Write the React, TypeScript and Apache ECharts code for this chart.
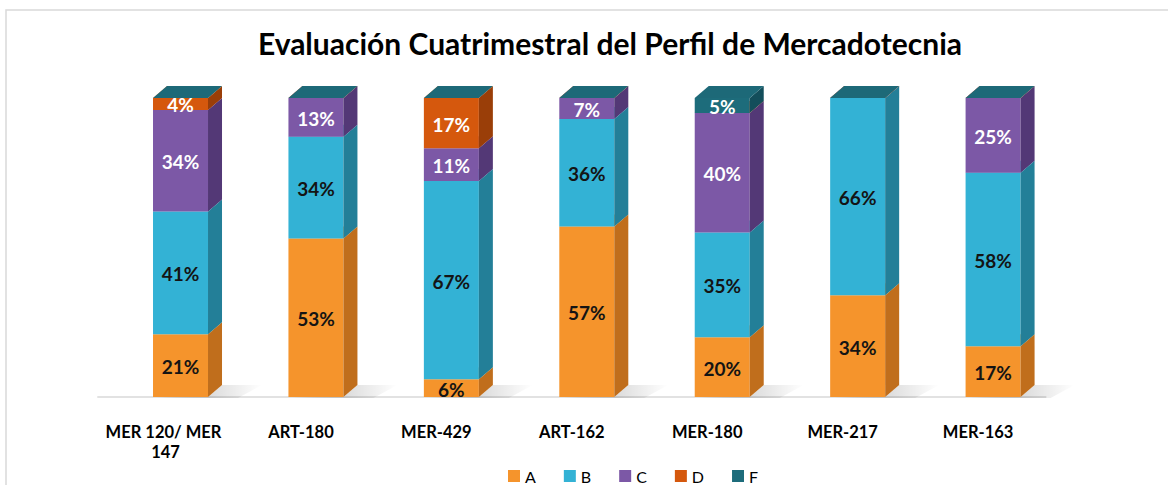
import React, { useEffect, useRef } from "react";
import * as echarts from "echarts";

const categories = ["MER 120/ MER 147", "ART-180", "MER-429", "ART-162", "MER-180", "MER-217", "MER-163"];
const seriesNames = ["A", "B", "C", "D", "F"];
const valuesA = [21, 53, 6, 57, 20, 34, 17];
const valuesB = [41, 34, 67, 36, 35, 66, 58];
const valuesC = [34, 13, 11, 7, 40, 0, 25];
const valuesD = [4, 0, 17, 0, 0, 0, 0];
const valuesF = [0, 0, 0, 0, 5, 0, 0];
const allValues = [valuesA, valuesB, valuesC, valuesD, valuesF];

const palette = [
  { front: "#F5942C", side: "#C06E1C", top: "#F8B060", label: "#141414" },
  { front: "#33B2D5", side: "#237F98", top: "#6CCBE5", label: "#141414" },
  { front: "#7C58A6", side: "#533876", top: "#9F80C2", label: "#ffffff" },
  { front: "#D5580D", side: "#9A3E08", top: "#E8803F", label: "#ffffff" },
  { front: "#1D6C7B", side: "#134E5B", top: "#1D6978", label: "#ffffff" },
];

export default function App() {
  const ref = useRef<HTMLDivElement>(null);
  useEffect(() => {
    if (!ref.current) return;
    const chart = echarts.init(ref.current, null, { renderer: "svg" });
    const totals = categories.map((_, i) => allValues.reduce((s, arr) => s + arr[i], 0));
    const cum = categories.map(() => 0);
    const series = allValues.map((vals, k) => {
      const col = palette[k];
      const data = vals.map((v, i) => {
        const b = (cum[i] / totals[i]) * 100;
        cum[i] += v;
        const t = (cum[i] / totals[i]) * 100;
        return [i, b, t, v];
      });
      return {
        type: "custom",
        name: seriesNames[k],
        itemStyle: { color: col.front },
        encode: { x: 0, y: 2 },
        data,
        renderItem: (params: any, api: any) => {
          const i = api.value(0);
          const b = api.value(1);
          const t = api.value(2);
          const v = api.value(3);
          const pb = api.coord([i, b]);
          const pt = api.coord([i, t]);
          const cx = pb[0];
          const x0 = cx - 12.5;
          const x1 = cx + 42.5;
          const dx = 14;
          const dy = 12;
          const yB = pb[1];
          const yT = pt[1];
          const children: any[] = [];
          if (k === 0) {
            children.push({
              type: "polygon",
              shape: { points: [[x0 + 4, yB + 1], [x1 + 30, yB + 1], [x1 + dx + 40, yB - dy], [x1 + dx, yB - dy], [x1, yB]] },
              style: {
                fill: new echarts.graphic.LinearGradient(0, 0, 1, 0, [
                  { offset: 0, color: "rgba(0,0,0,0.28)" },
                  { offset: 0.5, color: "rgba(0,0,0,0.14)" },
                  { offset: 1, color: "rgba(0,0,0,0)" },
                ]),
              },
            });
          }
          if (yB - yT > 0.1) {
            children.push({
              type: "rect",
              shape: { x: x0, y: yT, width: x1 - x0, height: yB - yT },
              style: { fill: col.front },
            });
            children.push({
              type: "polygon",
              shape: { points: [[x1, yB], [x1 + dx, yB - dy], [x1 + dx, yT - dy], [x1, yT]] },
              style: { fill: col.side },
            });
          }
          children.push({
            type: "polygon",
            shape: { points: [[x0, yT], [x0 + dx, yT - dy], [x1 + dx, yT - dy], [x1, yT]] },
            style: { fill: col.top },
          });
          if (v > 0) {
            children.push({
              type: "text",
              x: (x0 + x1) / 2,
              y: (yT + yB) / 2 + 1,
              style: {
                text: v + "%",
                fill: col.label,
                font: "bold 19px Lato",
                align: "center",
                verticalAlign: "middle",
              },
            });
          }
          return { type: "group", children };
        },
      };
    });

    chart.setOption({
      animation: false,
      backgroundColor: "#ffffff",
      title: {
        text: "Evaluación Cuatrimestral del Perfil de Mercadotecnia",
        left: 605,
        textAlign: "center",
        top: 23,
        textStyle: { fontFamily: "Lato", fontWeight: "bold", fontSize: 30, color: "#000000" },
      },
      graphic: [
        {
          type: "rect",
          shape: { x: 6, y: 10, width: 1220, height: 520 },
          style: { fill: "none", stroke: "#d9d9d9", lineWidth: 1.5 },
          silent: true,
        },
      ],
      legend: {
        data: seriesNames,
        left: 508,
        top: 468,
        padding: 0,
        icon: "rect",
        itemWidth: 12,
        itemHeight: 12,
        itemGap: 28,
        textStyle: { fontFamily: "Lato", fontSize: 16, lineHeight: 16, color: "#000000" },
      },
      grid: { left: 97.8, width: 948, top: 98, bottom: 88 },
      xAxis: {
        type: "category",
        data: categories,
        offset: 10,
        axisLine: { show: true, lineStyle: { color: "#d9d9d9", width: 1.5 } },
        axisTick: { show: false },
        axisLabel: {
          interval: 0,
          margin: 15,
          width: 128,
          overflow: "break",
          lineHeight: 20,
          fontFamily: "Lato",
          fontWeight: "bold",
          fontSize: 16.5,
          color: "#000000",
        },
      },
      yAxis: { type: "value", min: 0, max: 100, show: false },
      series,
    });
    return () => chart.dispose();
  }, []);
  return (
    <div
      ref={ref}
      style={{ position: "absolute", left: 0, top: 0, width: 1168, height: 485 }}
    />
  );
}
